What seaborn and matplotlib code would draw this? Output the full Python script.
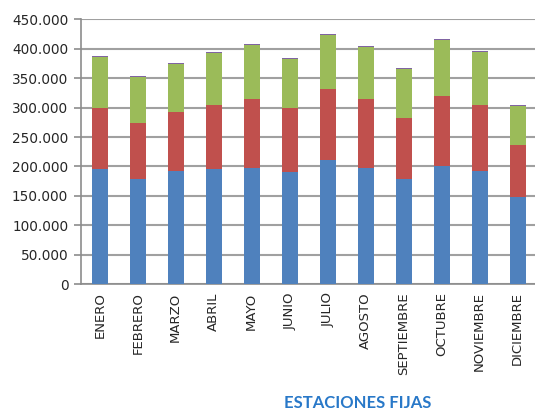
import numpy as np
import pandas as pd
import matplotlib
matplotlib.use("Agg")
import matplotlib.pyplot as plt
from matplotlib.ticker import FuncFormatter, MultipleLocator
import seaborn as sns

months = ["ENERO", "FEBRERO", "MARZO", "ABRIL", "MAYO", "JUNIO", "JULIO",
          "AGOSTO", "SEPTIEMBRE", "OCTUBRE", "NOVIEMBRE", "DICIEMBRE"]
serie_azul = [195100, 178000, 191600, 195100, 197300, 190500, 210900,
              197300, 178000, 200700, 191600, 147400]
serie_roja = [104200, 95800, 100900, 109300, 117300, 108800, 120700,
              117300, 104300, 119000, 112800, 89000]
serie_verde = [86200, 77700, 82200, 89000, 91900, 83400, 91900,
               88500, 83300, 95300, 90200, 66300]
serie_morada = [1800, 1600, 1600, 1700, 1700, 1600, 1800,
                1700, 1600, 1800, 1700, 1500]

colors = ["#4F81BD", "#C0504D", "#9BBB59", "#8064A2"]

df = pd.DataFrame({"mes": months, "azul": serie_azul, "roja": serie_roja,
                   "verde": serie_verde, "morada": serie_morada})
cum = df[["azul", "roja", "verde", "morada"]].cumsum(axis=1)

sns.set_style("white")
plt.rcParams["font.family"] = ["DejaVu Sans"]

fig, ax = plt.subplots(figsize=(5.35, 4.13), dpi=100)
plt.subplots_adjust(left=0.151, right=1.003, top=0.953, bottom=0.312)

# stacked bars: draw cumulative totals from the top series down
for col, color in zip(["morada", "verde", "roja", "azul"], colors[::-1]):
    sns.barplot(x=df["mes"], y=cum[col], color=color, width=0.42,
                saturation=1, ax=ax, zorder=3, linewidth=0)

ax.set_ylim(0, 450000)
ax.set_xlim(-0.5, len(months) - 0.5)
ax.yaxis.set_major_locator(MultipleLocator(50000))
ax.yaxis.set_major_formatter(FuncFormatter(
    lambda v, p: "0" if v == 0 else f"{int(v):,}".replace(",", ".")))
ax.set_xlabel("")
ax.set_ylabel("")

ax.grid(axis="y", color="#A0A0A0", linewidth=1.5, zorder=0)
ax.set_axisbelow(True)

sns.despine(ax=ax, top=True, right=True)
for s in ["left", "bottom"]:
    ax.spines[s].set_color("#8C8C8C")
    ax.spines[s].set_linewidth(1.2)

ax.set_xticks(range(len(months)))
ax.set_xticklabels(months, rotation=90, fontsize=9.5)
ax.set_xticks(np.arange(-0.5, len(months), 1), minor=True)
ax.tick_params(axis="x", which="major", length=0, pad=6)
ax.tick_params(axis="x", which="minor", length=5, color="#8C8C8C", width=1.2)
ax.tick_params(axis="y", length=5, color="#8C8C8C", width=1.2, labelsize=9.8,
               pad=4, left=True)

fig.text(0.669, 0.024, "ESTACIONES FIJAS", fontsize=12, fontweight="bold",
         color="#2878C8", family=["Lato", "DejaVu Sans"],
         ha="center", va="center")

fig.savefig("out.png", dpi=100)
